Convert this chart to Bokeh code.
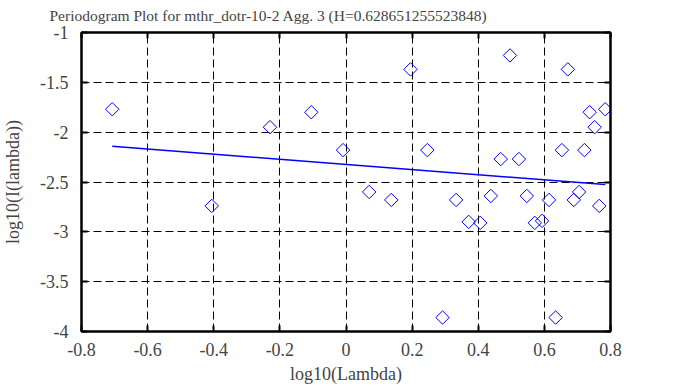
import math
from bokeh.plotting import figure
from bokeh.models import LinearAxis, Range1d, FixedTicker, CustomJSTickFormatter
from bokeh.embed import file_html
from bokeh.resources import INLINE

# data
log_lambda = [-0.707, -0.406, -0.230, -0.105, -0.009, 0.070, 0.137, 0.195, 0.246, 0.292,
              0.333, 0.371, 0.406, 0.438, 0.468, 0.496, 0.523, 0.547, 0.571, 0.593,
              0.614, 0.634, 0.653, 0.671, 0.689, 0.705, 0.721, 0.737, 0.752, 0.766, 0.784]
log_I = [-1.77, -2.74, -1.95, -1.80, -2.18, -2.60, -2.68, -1.37, -2.18, -3.86,
         -2.68, -2.90, -2.91, -2.64, -2.27, -1.23, -2.27, -2.64, -2.91, -2.89,
         -2.68, -3.86, -2.18, -1.37, -2.68, -2.60, -2.18, -1.80, -1.95, -2.74, -1.77]
fit_x = [-0.707, 0.784]
fit_y = [-2.142, -2.526]
x_ticks = [-0.8, -0.6, -0.4, -0.2, 0, 0.2, 0.4, 0.6, 0.8]
y_ticks = [-4, -3.5, -3, -2.5, -2, -1.5, -1]
title_text = "Periodogram Plot for mthr_dotr-10-2 Agg. 3 (H=0.628651255523848)"

FONT = "Liberation Serif"

p = figure(width=673, height=387, output_backend="svg", toolbar_location=None,
           x_range=Range1d(-0.8, 0.8), y_range=Range1d(-4, -1),
           min_border_left=81, min_border_right=63, min_border_top=31, min_border_bottom=56,
           x_axis_label="log10(Lambda)", y_axis_label="log10(I(lambda))")

t = p.title
t.text = title_text
t.text_font = FONT
t.text_font_size = "15.5px"
t.text_font_style = "normal"
t.align = "left"
t.vertical_align = "top"
t.offset = -32
t.standoff = 13

p.outline_line_color = "black"
p.outline_line_width = 2
p.outline_line_alpha = 1

empty = CustomJSTickFormatter(code="return ''")
plain = CustomJSTickFormatter(code="return String(tick)")

def style_axis(ax, ticks, labels=True):
    ax.ticker = FixedTicker(ticks=ticks)
    ax.axis_line_color = "black"
    ax.axis_line_width = 2
    ax.major_tick_in = 6
    ax.major_tick_out = 0
    ax.major_tick_line_width = 2
    ax.minor_tick_line_color = None
    ax.major_label_text_font = FONT
    ax.major_label_text_font_size = "18px"
    ax.axis_label_text_font = FONT
    ax.axis_label_text_font_size = "18px"
    ax.axis_label_text_font_style = "normal"
    if labels:
        ax.formatter = plain
    else:
        ax.formatter = empty
        ax.major_label_text_font_size = "0px"
        ax.major_label_standoff = 0

style_axis(p.xaxis[0], x_ticks)
style_axis(p.yaxis[0], y_ticks)
p.xaxis[0].major_label_standoff = 11
p.xaxis[0].axis_label_standoff = 5
p.yaxis[0].major_label_standoff = 13
p.yaxis[0].axis_label_standoff = 14

top = LinearAxis()
style_axis(top, x_ticks, labels=False)
right = LinearAxis()
style_axis(right, y_ticks, labels=False)
p.add_layout(top, "above")
p.add_layout(right, "right")

for g in (p.xgrid[0], p.ygrid[0]):
    g.grid_line_color = "black"
    g.grid_line_dash = "8 4"
    g.grid_line_width = 1
p.xgrid[0].ticker = FixedTicker(ticks=x_ticks)
p.ygrid[0].ticker = FixedTicker(ticks=y_ticks)

p.line(fit_x, fit_y, line_color="#0000ff", line_width=1.5)
p.scatter(log_lambda, log_I, marker="square", size=9.5, angle=math.pi / 4,
          fill_color=None, line_color="#0000ff", line_width=1)

open("out.html", "w").write(file_html(p, INLINE))
